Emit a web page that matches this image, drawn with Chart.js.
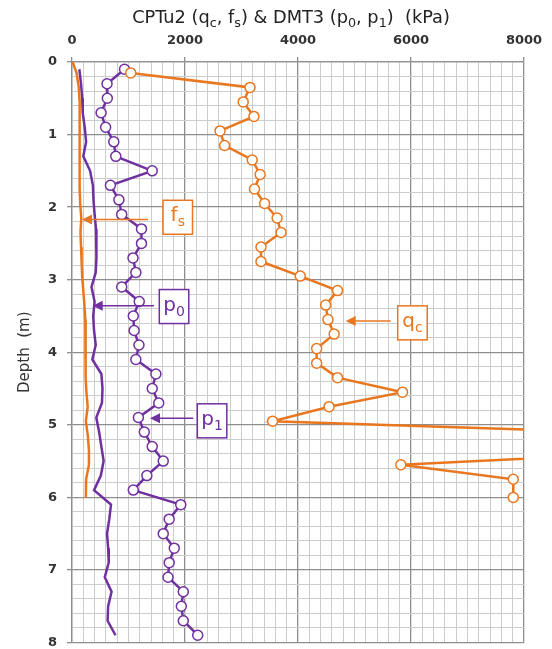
<!DOCTYPE html>
<html><head><meta charset="utf-8">
<script src="https://cdn.jsdelivr.net/npm/chart.js@4"></script>
<style>html,body{margin:0;padding:0;background:#fff}</style>
</head><body>
<canvas id="c" width="552" height="649"></canvas>
<script>
// ---- data ----
const qcDepth = [0.15,0.35,0.55,0.75,0.95,1.15,1.35,1.55,1.75,1.95,2.15,2.35,2.55,2.75,2.95,3.15,3.35,3.55,3.75,3.95,4.15,4.35,4.55,4.75,4.95,5.15,5.35,5.55,5.75,6.0];
const qcValues = [1040,3150,3030,3220,2620,2700,3190,3330,3230,3410,3630,3700,3345,3345,4040,4700,4490,4530,4640,4330,4330,4700,5850,4550,3550,11300,11100,5820,7810,7810];
const fsDepth = [0,0.15,0.35,0.55,0.75,0.95,1.15,1.35,1.55,1.75,1.95,2.15,2.35,2.55,2.75,2.95,3.15,3.35,3.55,3.75,3.95,4.15,4.35,4.55,4.75,4.95,5.15,5.35,5.55,5.75,6.0];
const fsValues = [10,80,120,135,140,140,130,125,135,140,145,165,150,160,170,180,200,220,235,240,240,240,245,255,278,245,280,300,300,250,245];
const dmtDepth = [0.1,0.3,0.5,0.7,0.9,1.1,1.3,1.5,1.7,1.9,2.1,2.3,2.5,2.7,2.9,3.1,3.3,3.5,3.7,3.9,4.1,4.3,4.5,4.7,4.9,5.1,5.3,5.5,5.7,5.9,6.1,6.3,6.5,6.7,6.9,7.1,7.3,7.5,7.7,7.9];
const p0Values = [130,160,180,190,225,250,200,320,370,380,400,425,435,430,420,345,400,375,390,420,360,520,540,530,430,480,520,560,510,390,690,660,620,640,650,580,700,640,630,770];
const p1Values = [930,620,625,515,595,740,775,1420,680,830,880,1230,1230,1080,1130,880,1190,1085,1100,1185,1130,1485,1420,1535,1175,1280,1420,1615,1325,1085,1925,1720,1615,1810,1720,1700,1970,1935,1970,2225];
const xTickLabels = [0,2000,4000,6000,8000];
const yTickLabels = [0,1,2,3,4,5,6,7,8];

const ORANGE = '#E8771F';
const PURPLE = '#7030A0';

function pts(xs, ys){ return xs.map((v,i)=>({x:v, y:ys[i]})); }
const isMajorX = v => xTickLabels.some(t => Math.abs(t - v) < 1e-6);
const isMajorY = v => yTickLabels.some(t => Math.abs(t - v) < 1e-6);

// label call-outs, anchored in data units
const callouts = [
  {main:'f', sub:'s', color:ORANGE, tip:177, tail:1345, depth:2.17, boxX:1611, boxY:2.14},
  {main:'p', sub:'0', color:PURPLE, tip:366, tail:1451, depth:3.36, boxX:1545, boxY:3.37},
  {main:'p', sub:'1', color:PURPLE, tip:1381, tail:2147, depth:4.91, boxX:2218, boxY:4.945},
  {main:'q', sub:'c', color:ORANGE, tip:4844, tail:5641, depth:3.57, boxX:5765, boxY:3.595}
];

const FONT = '"DejaVu Sans", Verdana, sans-serif';

const titlePlugin = {
  id:'richTitle',
  afterDraw(chart){
    const ctx = chart.ctx;
    const segs = [['CPTu2 (q',0],['c',1],[', f',0],['s',1],[') & DMT3 (p',0],['0',1],[', p',0],['1',1],[')  (kPa)',0]];
    let size = 16;
    const measure = s => { let w=0; segs.forEach(([t,sub])=>{ctx.font = (sub? s*0.72: s)+'px '+FONT; w += ctx.measureText(t).width;}); return w; };
    const target = 318;
    size = size * target / measure(size);
    const total = measure(size);
    let x = 291 - total/2;
    const y = 23;
    ctx.save();
    ctx.fillStyle = '#222';
    ctx.textBaseline = 'alphabetic';
    segs.forEach(([t,sub])=>{
      ctx.font = (sub? size*0.72: size)+'px '+FONT;
      ctx.fillText(t, x, sub ? y + size*0.25 : y);
      x += ctx.measureText(t).width;
    });
    ctx.restore();
  }
};

const calloutPlugin = {
  id:'callouts',
  afterDatasetsDraw(chart){
    const ctx = chart.ctx;
    const xs = chart.scales.x, ys = chart.scales.y;
    ctx.save();
    callouts.forEach(c=>{
      const tx = xs.getPixelForValue(c.tip), lx = xs.getPixelForValue(c.tail), y = ys.getPixelForValue(c.depth);
      ctx.strokeStyle = c.color; ctx.fillStyle = c.color; ctx.lineWidth = 1.6;
      ctx.beginPath(); ctx.moveTo(lx, y); ctx.lineTo(tx+8, y); ctx.stroke();
      ctx.beginPath(); ctx.moveTo(tx, y); ctx.lineTo(tx+10, y-5); ctx.lineTo(tx+10, y+5); ctx.closePath(); ctx.fill();
      const bx = xs.getPixelForValue(c.boxX), by = ys.getPixelForValue(c.boxY);
      const bw = 29.5, bh = 34;
      ctx.fillStyle = '#fff';
      ctx.fillRect(bx, by-bh/2, bw, bh);
      ctx.lineWidth = 1.5;
      ctx.strokeRect(bx, by-bh/2, bw, bh);
      ctx.fillStyle = c.color;
      ctx.font = '20px '+FONT;
      const mw = ctx.measureText(c.main).width;
      ctx.font = '14px '+FONT;
      const sw = ctx.measureText(c.sub).width;
      let x0 = bx + (bw - mw - sw)/2;
      ctx.textBaseline = 'alphabetic';
      ctx.font = '20px '+FONT;
      ctx.fillText(c.main, x0, by + 4);
      ctx.font = '14px '+FONT;
      ctx.fillText(c.sub, x0 + mw, by + 9);
    });
    ctx.restore();
  }
};

new Chart(document.getElementById('c'), {
  type:'line',
  data:{
    datasets:[
      {label:'fs', data:pts(fsValues, fsDepth), borderColor:ORANGE, borderWidth:2.5, pointRadius:0, tension:0},
      {label:'p0', data:pts(p0Values, dmtDepth), borderColor:PURPLE, borderWidth:2.5, pointRadius:0, tension:0},
      {label:'qc', data:pts(qcValues, qcDepth), borderColor:ORANGE, borderWidth:2.5, pointRadius:5, pointBorderWidth:1.5, pointBackgroundColor:'#fff', pointBorderColor:ORANGE, tension:0},
      {label:'p1', data:pts(p1Values, dmtDepth), borderColor:PURPLE, borderWidth:2.5, pointRadius:5, pointBorderWidth:1.5, pointBackgroundColor:'#fff', pointBorderColor:PURPLE, tension:0}
    ]
  },
  options:{
    responsive:false, animation:false, devicePixelRatio:1,
    layout:{padding:{left:0, right:28, top:0, bottom:6}},
    plugins:{legend:{display:false}, title:{display:false}, tooltip:{enabled:false}},
    scales:{
      x:{type:'linear', position:'top', min:0, max:8000,
        afterFit(s){ s.height = 62; s.paddingLeft = 0; s.paddingRight = 0; },
        ticks:{stepSize:200, autoSkip:false, maxRotation:0, padding:9, color:'#333',
          font:{family:FONT, size:13, weight:'bold'},
          callback:v => isMajorX(v) ? String(v) : ''},
        grid:{color:c => isMajorX(c.tick.value) ? '#8e8e8e' : '#cdcdcd',
              lineWidth:c => isMajorX(c.tick.value) ? 1.3 : 1,
              tickColor:c => isMajorX(c.tick.value) ? '#8e8e8e' : 'rgba(0,0,0,0)', tickLength:5},
        border:{color:'#8e8e8e', width:1.3}
      },
      y:{type:'linear', reverse:true, min:0, max:8,
        afterFit(s){ s.width = 72; s.paddingTop = 0; s.paddingBottom = 0; },
        ticks:{stepSize:0.2, autoSkip:false, padding:10, color:'#333',
          font:{family:FONT, size:13, weight:'bold'},
          callback:v => isMajorY(v) ? String(Math.round(v)) : ''},
        grid:{color:c => isMajorY(c.tick.value) ? '#8e8e8e' : '#cdcdcd',
              lineWidth:c => isMajorY(c.tick.value) ? 1.3 : 1,
              tickColor:c => isMajorY(c.tick.value) ? '#8e8e8e' : 'rgba(0,0,0,0)', tickLength:5},
        border:{color:'#8e8e8e', width:1.3},
        title:{display:true, text:'Depth  (m)', color:'#333', font:{family:FONT, size:15}, padding:{top:16, bottom:0}}
      }
    }
  },
  plugins:[titlePlugin, calloutPlugin]
});
</script>
</body></html>
